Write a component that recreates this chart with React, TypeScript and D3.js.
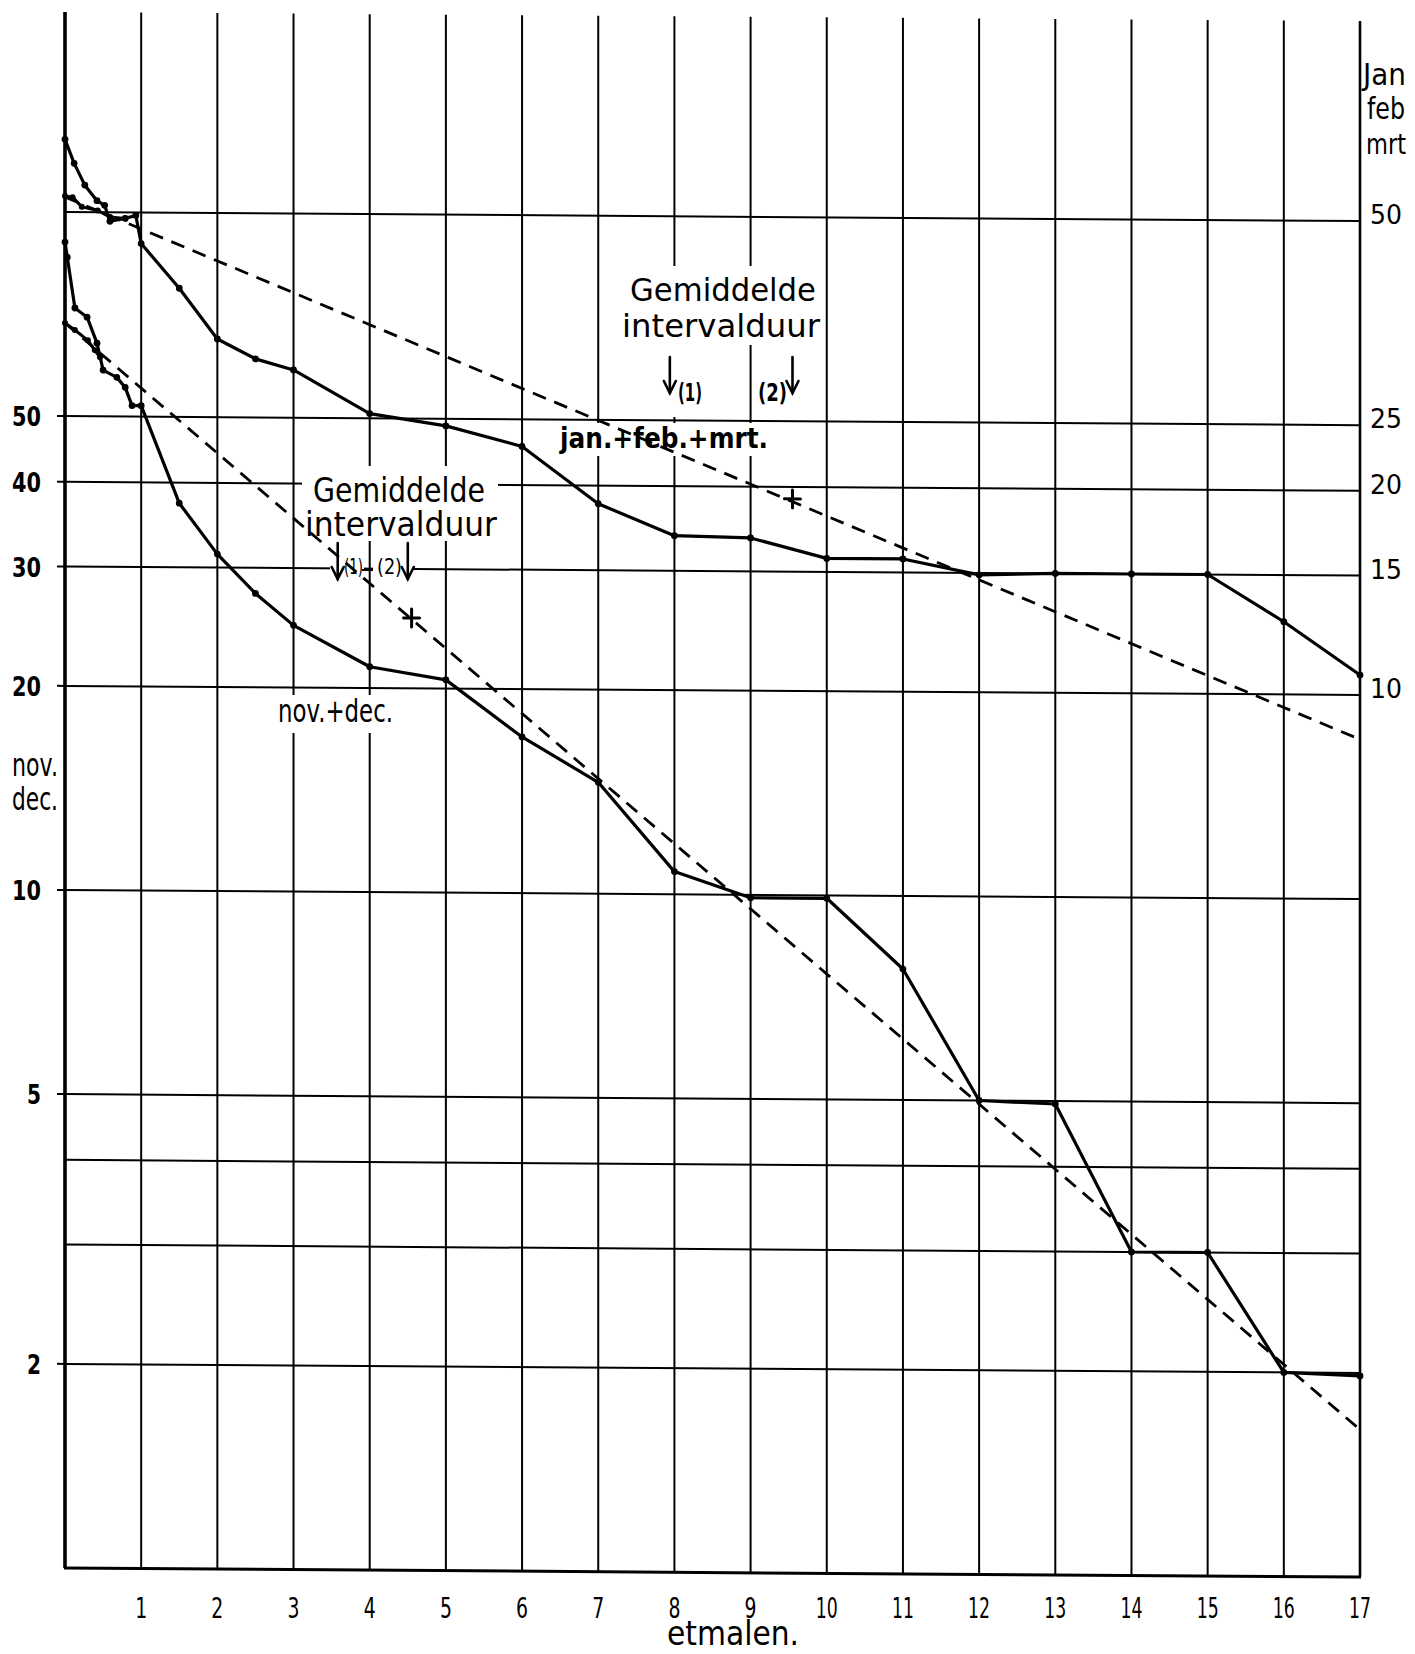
import React from 'react';
import * as d3 from 'd3';

// ---- data ----
const dayTicks = [1, 2, 3, 4, 5, 6, 7, 8, 9, 10, 11, 12, 13, 14, 15, 16, 17];
const gridDays = d3.range(0, 18);
const leftGridValues = [100, 50, 40, 30, 20, 10, 5, 4, 3, 2];
const leftTickLabels = [50, 40, 30, 20, 10, 5, 2];
const rightTickLabels = [50, 25, 20, 15, 10];

// jan + feb + mrt (right axis)
const janDays = [0, 0.12, 0.26, 0.42, 0.52, 0.59, 0.79, 0.93, 1, 1.5, 2, 2.5, 3, 4, 5, 6, 7, 8, 9, 10, 11, 12, 13, 14, 15, 16, 17];
const janValues = [64, 59, 54.8, 52, 51.2, 48.5, 49, 49.5, 45, 38.7, 32.6, 30.5, 29.4, 25.4, 24.4, 22.8, 18.8, 16.9, 16.8, 15.7, 15.7, 14.9, 15, 15, 15, 12.8, 10.7];
const janStartDays = [0, 0.1, 0.22, 0.43, 0.59, 0.79];
const janStartValues = [52.8, 52.6, 50.9, 50.3, 49.2, 49];
const janFitDays = [0, 17];
const janFitValues = [52.6, 8.6];
const janMeanDays = [7.94, 9.55];
const janMeanMark = [9.55, 19.2];

// nov + dec (left axis)
const novDays = [0, 0.03, 0.13, 0.29, 0.42, 0.5, 0.68, 0.79, 0.88, 1, 1.5, 2, 2.5, 3, 4, 5, 6, 7, 8, 9, 10, 11, 12, 13, 14, 15, 16, 17];
const novValues = [90.3, 85.8, 72.2, 70, 64.1, 58.5, 57.1, 55.2, 51.9, 51.9, 37.3, 31.4, 27.5, 24.7, 21.5, 20.6, 17, 14.6, 10.8, 9.9, 9.9, 7.8, 5, 4.95, 3, 3, 2, 1.98];
const novStartDays = [0, 0.13, 0.3, 0.39, 0.46];
const novStartValues = [68.6, 67, 64.7, 62.6, 61.1];
const novFitDays = [0, 17];
const novFitValues = [68.6, 1.65];
const novMeanDays = [3.58, 4.5];
const novMeanMark = [4.55, 25.4];

const FONT = '"DejaVu Sans", "Liberation Sans", sans-serif';

export default function App() {
  const W = 1415, H = 1654;
  const x = d3.scaleLinear().domain([0, 17]).range([65, 1360]);
  const yL = d3.scaleLog().domain([1, 100]).range([1568, 212]);
  const yR = d3.scaleLog().domain([0.5, 50]).range([1568, 212]);
  const k = 0.007;
  const skew = `matrix(1,${k},0,1,0,${-k * 65})`;

  const pairs = (ds: number[], vs: number[]) => ds.map((d, i) => [d, vs[i]] as [number, number]);
  const lineL = d3.line<[number, number]>().x(d => x(d[0])).y(d => yL(d[1]));
  const lineR = d3.line<[number, number]>().x(d => x(d[0])).y(d => yR(d[1]));

  const janPts = pairs(janDays, janValues);
  const janStart = pairs(janStartDays, janStartValues);
  const novPts = pairs(novDays, novValues);
  const novStart = pairs(novStartDays, novStartValues);

  const arrow = (cx: number, y0: number, y1: number, key: string) => (
    <g key={key} stroke="#000" strokeWidth={2.6} fill="none" strokeLinecap="round">
      <line x1={cx} y1={y0} x2={cx} y2={y1} />
      <path d={`M${cx - 6},${y1 - 12} L${cx},${y1} L${cx + 6},${y1 - 12}`} />
    </g>
  );

  const plus = (cx: number, cy: number, key: string) => (
    <g key={key} stroke="#000" strokeWidth={3}>
      <line x1={cx - 8} y1={cy} x2={cx + 8} y2={cy} />
      <line x1={cx} y1={cy - 9} x2={cx} y2={cy + 9} />
    </g>
  );

  const bottomY = yL(1);

  return (
    <svg width={W} height={H} style={{ position: 'absolute', left: 0, top: 0, background: '#fff' }} fontFamily={FONT}>
      <rect x={0} y={0} width={W} height={H} fill="#fff" />
      {/* grid */}
      <g transform={skew} stroke="#000" fill="none">
        {gridDays.map(d => (
          <line key={'v' + d} x1={x(d)} x2={x(d)} y1={12} y2={bottomY}
            strokeWidth={d === 0 ? 3.6 : d === 17 ? 2.6 : 2} />
        ))}
        {leftGridValues.map(v => (
          <line key={'h' + v} x1={x(0)} x2={x(17)} y1={yL(v)} y2={yL(v)} strokeWidth={2} />
        ))}
        <line x1={x(0) - 1} x2={x(17) + 1} y1={bottomY} y2={bottomY} strokeWidth={3} />
        {leftTickLabels.map(v => (
          <line key={'t' + v} x1={x(0) - 8} x2={x(0)} y1={yL(v)} y2={yL(v)} strokeWidth={2} />
        ))}
      </g>

      {/* white label backgrounds */}
      <g fill="#fff">
        <rect x={616} y={266} width={208} height={79} />
        <rect x={659} y={345} width={48} height={72} />
        <rect x={752} y={350} width={48} height={55} />
        <rect x={555} y={423} width={217} height={33} />
        <rect x={302} y={466} width={196} height={75} />
        <rect x={330} y={541} width={34} height={41} />
        <rect x={373} y={541} width={41} height={41} />
        <rect x={275} y={695} width={121} height={38} />
      </g>

      {/* data */}
      <g transform={skew} fill="none" stroke="#000" strokeLinejoin="round" strokeLinecap="round">
        <path d={lineR(pairs(janFitDays, janFitValues)) || ''} strokeWidth={2.8} strokeDasharray="14,9" strokeLinecap="butt" />
        <path d={lineL(pairs(novFitDays, novFitValues)) || ''} strokeWidth={2.8} strokeDasharray="14,9" strokeLinecap="butt" />
        <path d={lineR(janPts) || ''} strokeWidth={3.2} />
        <path d={lineR(janStart) || ''} strokeWidth={3} />
        <path d={lineL(novPts) || ''} strokeWidth={3.2} />
        <path d={lineL(novStart) || ''} strokeWidth={3} />
        <g fill="#000" stroke="none">
          {janPts.map((p, i) => <circle key={'jp' + i} cx={x(p[0])} cy={yR(p[1])} r={3.4} />)}
          {janStart.map((p, i) => <circle key={'js' + i} cx={x(p[0])} cy={yR(p[1])} r={3} />)}
          {novPts.map((p, i) => <circle key={'np' + i} cx={x(p[0])} cy={yL(p[1])} r={3.4} />)}
          {novStart.map((p, i) => <circle key={'ns' + i} cx={x(p[0])} cy={yL(p[1])} r={3} />)}
        </g>
        {plus(x(janMeanMark[0]), yR(janMeanMark[1]), 'jm')}
        {plus(x(novMeanMark[0]), yL(novMeanMark[1]), 'nm')}
      </g>

      {/* annotations */}
      <g fill="#000">
        <text x={630} y={301} fontSize={32} textLength={186} lengthAdjust="spacingAndGlyphs">Gemiddelde</text>
        <text x={622} y={337} fontSize={32} textLength={198} lengthAdjust="spacingAndGlyphs">intervalduur</text>
        {arrow(x(janMeanDays[0]), 357, 393, 'ja1')}
        {arrow(x(janMeanDays[1]), 357, 393, 'ja2')}
        <text x={678} y={401} fontSize={24} fontWeight="bold" textLength={24} lengthAdjust="spacingAndGlyphs">(1)</text>
        <text x={758} y={401} fontSize={24} fontWeight="bold" textLength={29} lengthAdjust="spacingAndGlyphs">(2)</text>
        <text x={560} y={448} fontSize={28} fontWeight="bold" textLength={208} lengthAdjust="spacingAndGlyphs">jan.+feb.+mrt.</text>

        <text x={313} y={502} fontSize={33} textLength={172} lengthAdjust="spacingAndGlyphs">Gemiddelde</text>
        <text x={305} y={536} fontSize={33} textLength={192} lengthAdjust="spacingAndGlyphs">intervalduur</text>
        {arrow(x(novMeanDays[0]), 543, 579, 'na1')}
        {arrow(x(novMeanDays[1]), 543, 579, 'na2')}
        <text x={344} y={574} fontSize={22} textLength={19} lengthAdjust="spacingAndGlyphs">(1)</text>
        <line x1={362} x2={373} y1={570} y2={570} stroke="#000" strokeWidth={2} />
        <text x={377} y={574} fontSize={22} textLength={25} lengthAdjust="spacingAndGlyphs">(2)</text>
        <text x={278} y={722} fontSize={32} textLength={115} lengthAdjust="spacingAndGlyphs">nov.+dec.</text>

        {/* left axis */}
        {leftTickLabels.map(v => {
          const s = String(v);
          const w = s.length === 1 ? 14 : 29;
          return (
            <text key={'ll' + v} x={41 - w} y={yL(v) + 10} fontSize={26} fontWeight="bold"
              textLength={w} lengthAdjust="spacingAndGlyphs">{s}</text>
          );
        })}
        <text x={12} y={776} fontSize={32} textLength={46} lengthAdjust="spacingAndGlyphs">nov.</text>
        <text x={12} y={810} fontSize={32} textLength={46} lengthAdjust="spacingAndGlyphs">dec.</text>

        {/* right axis */}
        {rightTickLabels.map(v => (
          <text key={'rl' + v} x={1370} y={yR(v) + 12} fontSize={26}
            textLength={32} lengthAdjust="spacingAndGlyphs">{String(v)}</text>
        ))}
        <text x={1363} y={85} fontSize={30} textLength={43} lengthAdjust="spacingAndGlyphs">Jan</text>
        <text x={1367} y={119} fontSize={30} textLength={38} lengthAdjust="spacingAndGlyphs">feb</text>
        <text x={1366} y={154} fontSize={28} textLength={40} lengthAdjust="spacingAndGlyphs">mrt</text>

        {/* bottom axis */}
        {dayTicks.map(d => {
          const s = String(d);
          const w = s.length === 1 ? 12 : 22;
          return (
            <text key={'bl' + d} x={x(d) - w / 2} y={1618} fontSize={28}
              textLength={w} lengthAdjust="spacingAndGlyphs">{s}</text>
          );
        })}
        <text x={667} y={1645} fontSize={34} textLength={132} lengthAdjust="spacingAndGlyphs">etmalen.</text>
      </g>
    </svg>
  );
}
